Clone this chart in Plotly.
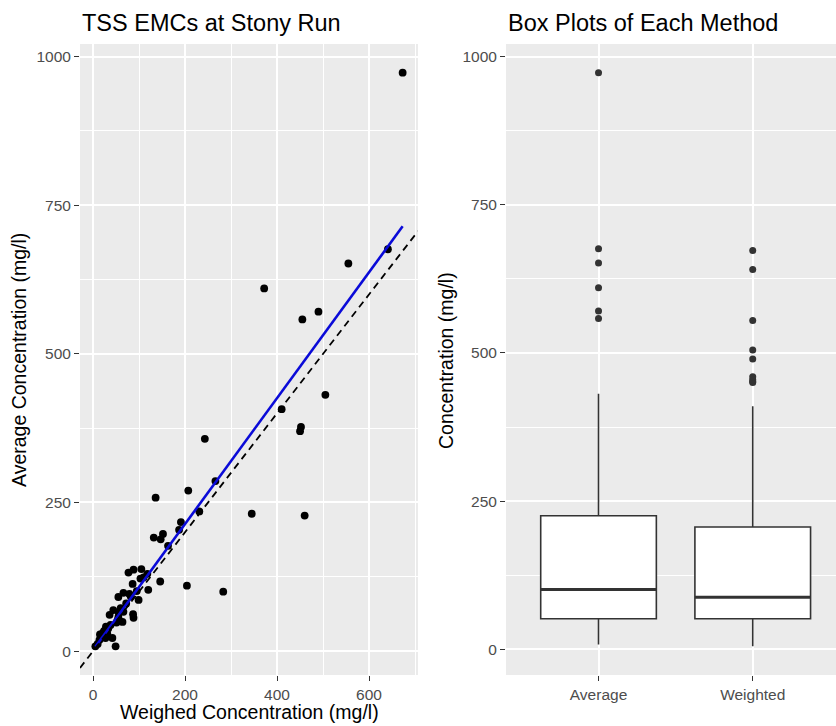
import numpy as np
import plotly.graph_objects as go

# ---- data (mg/l) ----
weighted = [673, 641, 555, 372, 490, 455, 505, 410, 452, 450, 460, 345, 283, 266, 243, 207, 136, 231, 191, 187,
            152, 132, 147, 163, 204,
            77, 88, 105, 118, 103, 146, 86, 120, 79, 66, 55, 99, 44, 36, 66, 87, 88, 55, 64, 51, 21, 14, 31, 42, 49, 5, 27,
            10, 18, 24, 33, 38, 28, 53, 15, 55, 56, 60, 72, 82, 95, 110]
average = [973, 676, 652, 610, 571, 558, 431, 407, 377, 370, 228, 231, 100, 286, 357, 270, 258, 235, 217, 204,
           197, 191, 188, 177, 110,
           132, 137, 138, 130, 122, 117, 113, 103, 96, 98, 91, 86, 69, 61, 66, 62, 56, 57, 49, 48, 30, 19, 29, 22, 8, 8, 22,
           12, 25, 34, 38, 44, 41, 51, 28, 53, 64, 72, 80, 92, 101, 124]
methods = ["Average", "Weighted"]

W = np.array(weighted, dtype=float)
A = np.array(average, dtype=float)

FONT = "Liberation Sans, Arial, sans-serif"
W_PX, H_PX = 836, 726


def expand(lo, hi, f=0.05):
    s = hi - lo
    return [lo - f * s, hi + f * s]


fig = go.Figure()

# scatter points
fig.add_trace(go.Scatter(x=weighted, y=average, mode="markers",
                         marker=dict(color="black", size=7.8), showlegend=False,
                         xaxis="x", yaxis="y"))

# linear fit (geom_smooth lm)
slope, intercept = np.polyfit(W, A, 1)
xs = np.array([W.min(), W.max()])
fig.add_trace(go.Scatter(x=xs, y=slope * xs + intercept, mode="lines",
                         line=dict(color="#0a0ad8", width=2.6), showlegend=False,
                         xaxis="x", yaxis="y"))

# 1:1 line
xr = expand(W.min(), W.max())
yr = expand(A.min(), A.max())
fig.add_trace(go.Scatter(x=xr, y=xr, mode="lines",
                         line=dict(color="black", width=1.8, dash="7px,5px"), showlegend=False,
                         xaxis="x", yaxis="y"))

# box plots
for i, (name, vals) in enumerate(zip(methods, [average, weighted])):
    fig.add_trace(go.Box(y=vals, x0=i, name=name, width=0.75, boxpoints="outliers",
                         jitter=0, pointpos=0, whiskerwidth=0, quartilemethod="linear",
                         fillcolor="white", line=dict(color="#333333", width=1.6),
                         marker=dict(color="#333333", size=7),
                         showlegend=False, xaxis="x2", yaxis="y2"))
    med = float(np.percentile(vals, 50))
    fig.add_trace(go.Scatter(x=[i - 0.375, i + 0.375], y=[med, med], mode="lines",
                             line=dict(color="#333333", width=3), showlegend=False,
                             xaxis="x2", yaxis="y2", hoverinfo="skip"))

yr2 = expand(min(W.min(), A.min()), max(W.max(), A.max()))

common = dict(showgrid=True, gridcolor="white", gridwidth=2, zeroline=False, showline=False,
              ticks="outside", ticklen=5, tickcolor="#333333", tickwidth=1.2,
              tickfont=dict(family=FONT, size=15.5, color="#4D4D4D"))
minor_x = dict(dtick=100, tick0=0, showgrid=True, gridcolor="white", gridwidth=1, ticks="")
minor_y = dict(dtick=125, tick0=0, showgrid=True, gridcolor="white", gridwidth=1, ticks="")

y_dom = [1 - 675 / H_PX, 1 - 44 / H_PX]

fig.update_layout(
    width=W_PX, height=H_PX,
    margin=dict(l=0, r=0, t=0, b=0),
    paper_bgcolor="white", plot_bgcolor="#EBEBEB",
    boxmode="overlay",
    font=dict(family=FONT),
    xaxis=dict(domain=[80 / W_PX, 418 / W_PX], range=xr, tick0=0, dtick=200, minor=minor_x,
               anchor="y", **common),
    yaxis=dict(domain=y_dom, range=yr, tick0=0, dtick=250, minor=minor_y, anchor="x", **common),
    xaxis2=dict(domain=[506 / W_PX, 1.0], range=[-0.6, 1.54], type="linear",
                tickvals=[0, 1], ticktext=methods, anchor="y2", **common),
    yaxis2=dict(domain=y_dom, range=yr2, tick0=0, dtick=250, minor=minor_y, anchor="x2", **common),
    annotations=[
        dict(text="TSS EMCs at Stony Run", x=80 / W_PX, y=1 - 23 / H_PX, xref="paper", yref="paper",
             xanchor="left", yanchor="middle", showarrow=False,
             font=dict(family=FONT, size=23.5, color="black")),
        dict(text="Box Plots of Each Method", x=506 / W_PX, y=1 - 23 / H_PX, xref="paper", yref="paper",
             xanchor="left", yanchor="middle", showarrow=False,
             font=dict(family=FONT, size=23.5, color="black")),
        dict(text="Weighed Concentration (mg/l)", x=249 / W_PX, y=1 - 712 / H_PX, xref="paper", yref="paper",
             xanchor="center", yanchor="middle", showarrow=False,
             font=dict(family=FONT, size=19.5, color="black")),
        dict(text="Average Concentration (mg/l)", x=19 / W_PX, y=1 - 360 / H_PX, xref="paper", yref="paper",
             xanchor="center", yanchor="middle", showarrow=False, textangle=-90,
             font=dict(family=FONT, size=19.5, color="black")),
        dict(text="Concentration (mg/l)", x=446 / W_PX, y=1 - 360 / H_PX, xref="paper", yref="paper",
             xanchor="center", yanchor="middle", showarrow=False, textangle=-90,
             font=dict(family=FONT, size=19.5, color="black")),
    ],
)

fig.write_html("out.html")
